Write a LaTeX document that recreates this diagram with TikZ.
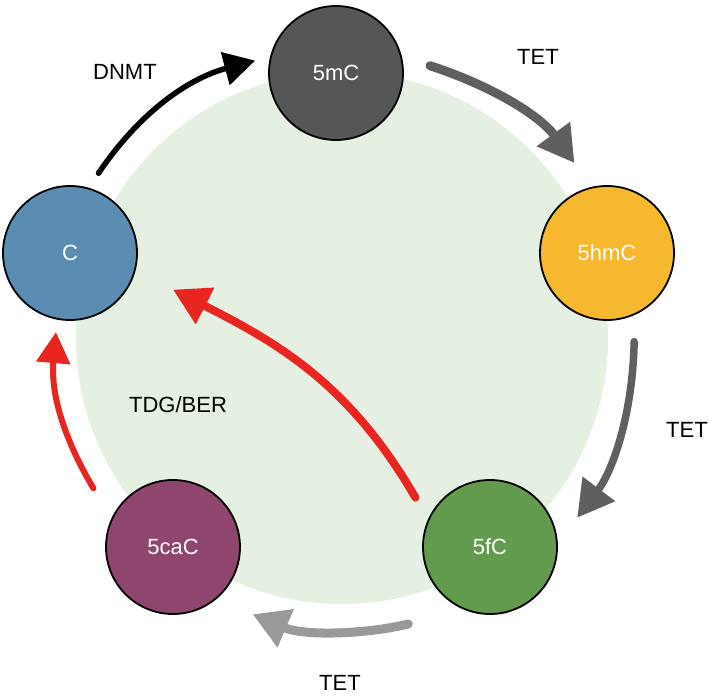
\documentclass[tikz,border=0pt]{standalone}
\usepackage{fontspec}
\setmainfont{Liberation Sans}
\usepackage{xcolor}
\usetikzlibrary{arrows.meta}

\definecolor{bggreen}{HTML}{E5F0E2}
\definecolor{cytosine}{HTML}{5B8DB2}
\definecolor{methyl}{HTML}{565656}
\definecolor{hydroxy}{HTML}{F5B82E}
\definecolor{formyl}{HTML}{629B4E}
\definecolor{carboxy}{HTML}{8E456E}
\definecolor{tetdark}{HTML}{5F5F5F}
\definecolor{tetlight}{HTML}{999999}
\definecolor{excision}{HTML}{E8251F}

\tikzset{
  base/.style={circle, draw=black, line width=1.8pt, minimum size=134pt,
    inner sep=0pt, text=white, font=\fontsize{22}{26}\selectfont},
  enzyme/.style={text=black, font=\fontsize{22}{26}\selectfont},
  flow/.style={line cap=round, -{Triangle[length=36pt, width=39pt]}},
  smallflow/.style={line cap=round, -{Triangle[length=31pt, width=33pt]}},
}

\begin{document}
\begin{tikzpicture}[x=1pt, y=1pt]
  % Fix the canvas size
  \useasboundingbox (0,0) rectangle (709,696);

  % Light green disc behind the cycle
  \node[circle, fill=bggreen, minimum size=532pt, inner sep=0pt] (bg) at (342,358) {};

  % The five bases
  \node[base, fill=cytosine] (C) at (70,443) {C};
  \node[base, fill=methyl] (mC) at (336,623) {5mC};
  \node[base, fill=hydroxy] (hmC) at (607,443) {5hmC};
  \node[base, fill=formyl] (fC) at (490,149) {5fC};
  \node[base, fill=carboxy] (caC) at (173,149) {5caC};

  % Oxidation and methylation steps round the outside
  \draw[smallflow, black, line width=5.5pt, shorten <=17.5pt, shorten >=15.5pt]
    (C.74.5) to[out=56, in=195] (mC.166.7);
  \draw[flow, tetdark, line width=9pt, shorten <=29.6pt, shorten >=29.3pt]
    (mC.14.6) to[out=-18, in=126] (hmC.103.6);
  \draw[flow, tetdark, line width=7.5pt, shorten <=26.6pt, shorten >=32.3pt]
    (hmC.-66.6) to[out=-91, in=53] (fC.3.2);
  \draw[flow, tetlight, line width=9pt, shorten <=58pt, shorten >=39pt]
    (fC.-112) to[out=-166, in=-23] (caC.-50.8);

  % Excision back to C
  \draw[smallflow, excision, line width=6pt, shorten <=35pt, shorten >=12.5pt]
    (caC.155.6) to[out=121, in=-95] (C.-101.8);
  \draw[flow, excision, line width=8pt, shorten <=25pt, shorten >=42pt]
    (fC.156.5) to[out=120, in=-27, looseness=1.05] (C.-15.3);

  % Enzyme labels
  \node[enzyme] (dnmt) at (125,624) {DNMT};
  \node[enzyme] (tetA) at (538,639) {TET};
  \node[enzyme] (tetB) at (687,266) {TET};
  \node[enzyme] (tetC) at (340,13) {TET};
  \node[enzyme] (tdg) at (178,291) {TDG/BER};
\end{tikzpicture}
\end{document}
